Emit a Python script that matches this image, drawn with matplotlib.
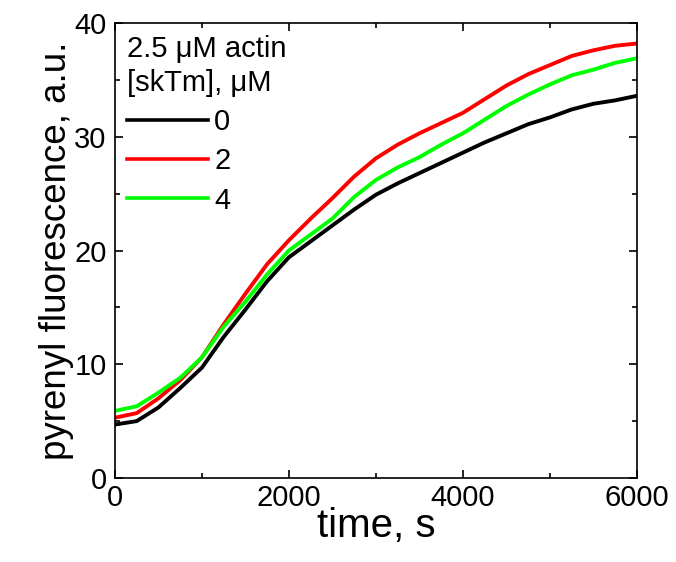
import numpy as np
import matplotlib.pyplot as plt
from matplotlib.ticker import MultipleLocator

plt.rcParams['font.family'] = ['Liberation Sans', 'DejaVu Sans']

time_s = [0, 250, 500, 750, 1000, 1250, 1500, 1750, 2000, 2250, 2500, 2750,
          3000, 3250, 3500, 3750, 4000, 4250, 4500, 4750, 5000, 5250, 5500,
          5750, 6000]

sktm_0 = [4.7, 5.0, 6.2, 7.9, 9.7, 12.4, 14.8, 17.3, 19.4, 20.8, 22.2, 23.6,
          24.9, 25.9, 26.8, 27.7, 28.6, 29.5, 30.3, 31.1, 31.7, 32.4, 32.9,
          33.2, 33.6]
sktm_2 = [5.3, 5.7, 7.0, 8.6, 10.6, 13.5, 16.2, 18.8, 20.9, 22.8, 24.6, 26.5,
          28.1, 29.3, 30.3, 31.2, 32.1, 33.3, 34.5, 35.5, 36.3, 37.1, 37.6,
          38.0, 38.2]
sktm_4 = [5.9, 6.3, 7.5, 8.8, 10.6, 13.3, 15.5, 17.9, 20.0, 21.4, 22.8, 24.7,
          26.2, 27.3, 28.2, 29.3, 30.3, 31.5, 32.7, 33.7, 34.6, 35.4, 35.9,
          36.5, 36.9]

series = [("0", sktm_0, "black"), ("2", sktm_2, "#ff0000"), ("4", sktm_4, "#00ff00")]

fig = plt.figure(figsize=(6.76, 5.62), dpi=100)
ax = fig.add_axes([0.170, 0.1495, 0.772, 0.8095])

for name, vals, col in series:
    ax.plot(time_s, vals, color=col, lw=2.8, label=name)

ax.set_xlim(0, 6000)
ax.set_ylim(0, 40)
ax.xaxis.set_major_locator(MultipleLocator(2000))
ax.xaxis.set_minor_locator(MultipleLocator(1000))
ax.yaxis.set_major_locator(MultipleLocator(10))
ax.yaxis.set_minor_locator(MultipleLocator(5))
ax.tick_params(which='both', direction='in', top=True, right=True, width=1.2,
               labelsize=21)
ax.tick_params(axis='x', pad=4)
ax.tick_params(axis='y', pad=6)
ax.tick_params(which='major', length=6)
ax.tick_params(which='minor', length=3.5)
for sp in ax.spines.values():
    sp.set_linewidth(1.2)

ax.set_xlabel("time, s", fontsize=29, labelpad=-3)
ax.set_ylabel("pyrenyl fluorescence, a.u.", fontsize=26.5, labelpad=0)

leg = ax.legend(title="2.5 μM actin\n[skTm], μM", loc='upper left',
                frameon=False, fontsize=21, title_fontsize=21,
                alignment='left', handlelength=2.8, handletextpad=0.2,
                labelspacing=0.38, borderaxespad=0.1, borderpad=0.3)
leg.get_title().set_linespacing(1.3)
for h in leg.get_lines():
    h.set_linewidth(2.6)

fig.savefig("out.png", dpi=100)
